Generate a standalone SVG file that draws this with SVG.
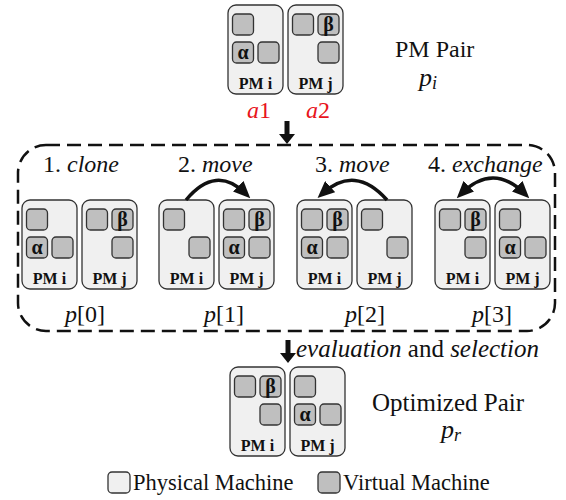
<svg xmlns="http://www.w3.org/2000/svg" width="566" height="500" viewBox="0 0 566 500">
<style>
.pm{fill:#f0f0f0;stroke:#333;stroke-width:1.3}
.vm{fill:#bfbfbf;stroke:#333;stroke-width:1.3}
.lbl{font-family:"Liberation Serif","Times New Roman",Tinos,serif;font-weight:bold;font-size:16px;text-anchor:middle;fill:#111}
.gr{font-family:"Liberation Serif","Times New Roman",Tinos,serif;font-weight:bold;font-size:20px;text-anchor:middle;fill:#111}
.t{font-family:"Liberation Serif","Times New Roman",Tinos,serif;font-size:24px;fill:#111}
.it{font-style:italic}
.red{fill:#e8141c}
.arc{fill:none;stroke:#111;stroke-width:3.5}
</style>
<defs>
<marker id="ah" markerUnits="userSpaceOnUse" markerWidth="17" markerHeight="15" refX="11" refY="7.5" orient="auto-start-reverse" viewBox="0 0 17 15">
<path d="M0,0 L17,7.5 L0,15 z" fill="#111"/>
</marker>
</defs>

<!-- top pair -->
<g id="top-pm-i" transform="translate(228,5)">
<rect class="pm" x="0" y="0" width="55" height="89" rx="8"/>
<rect class="vm" x="4.5" y="9" width="21" height="21" rx="4"/>
<rect class="vm" x="4.5" y="37" width="21" height="21" rx="4"/>
<rect class="vm" x="30" y="37" width="21" height="21" rx="4"/>
<text class="gr" x="15" y="54">α</text>
<text class="lbl" x="27.5" y="84">PM i</text>
</g>
<g id="top-pm-j" transform="translate(288,5)">
<rect class="pm" x="0" y="0" width="55" height="89" rx="8"/>
<rect class="vm" x="4.5" y="9" width="21" height="21" rx="4"/>
<rect class="vm" x="30" y="9" width="21" height="21" rx="4"/>
<rect class="vm" x="30" y="37" width="21" height="21" rx="4"/>
<text class="gr" x="40.5" y="26">β</text>
<text class="lbl" x="27.5" y="84">PM j</text>
</g>
<g id="top-labels">
<text class="t it red" x="247" y="118">a<tspan font-style="normal">1</tspan></text>
<text class="t it red" x="306" y="118">a<tspan font-style="normal">2</tspan></text>
<text class="t" x="395" y="57">PM Pair</text>
<text class="t it" x="419" y="86" style="font-size:26px">p<tspan style="font-size:18px" dy="3">i</tspan></text>
</g>

<!-- step 1 -->
<g id="s1-pm-i" transform="translate(22,200)">
<rect class="pm" x="0" y="0" width="55" height="89" rx="8"/>
<rect class="vm" x="4.5" y="9" width="21" height="21" rx="4"/>
<rect class="vm" x="4.5" y="37" width="21" height="21" rx="4"/>
<rect class="vm" x="30" y="37" width="21" height="21" rx="4"/>
<text class="gr" x="15" y="54">α</text>
<text class="lbl" x="27.5" y="84">PM i</text>
</g>
<g id="s1-pm-j" transform="translate(82,200)">
<rect class="pm" x="0" y="0" width="55" height="89" rx="8"/>
<rect class="vm" x="4.5" y="9" width="21" height="21" rx="4"/>
<rect class="vm" x="30" y="9" width="21" height="21" rx="4"/>
<rect class="vm" x="30" y="37" width="21" height="21" rx="4"/>
<text class="gr" x="40.5" y="26">β</text>
<text class="lbl" x="27.5" y="84">PM j</text>
</g>

<!-- step 2 -->
<g id="s2-pm-i" transform="translate(159,200)">
<rect class="pm" x="0" y="0" width="55" height="89" rx="8"/>
<rect class="vm" x="4.5" y="9" width="21" height="21" rx="4"/>
<rect class="vm" x="30" y="37" width="21" height="21" rx="4"/>
<text class="lbl" x="27.5" y="84">PM i</text>
</g>
<g id="s2-pm-j" transform="translate(219,200)">
<rect class="pm" x="0" y="0" width="55" height="89" rx="8"/>
<rect class="vm" x="4.5" y="9" width="21" height="21" rx="4"/>
<rect class="vm" x="30" y="9" width="21" height="21" rx="4"/>
<rect class="vm" x="4.5" y="37" width="21" height="21" rx="4"/>
<rect class="vm" x="30" y="37" width="21" height="21" rx="4"/>
<text class="gr" x="40.5" y="26">β</text>
<text class="gr" x="15" y="54">α</text>
<text class="lbl" x="27.5" y="84">PM j</text>
</g>

<!-- step 3 -->
<g id="s3-pm-i" transform="translate(297,200)">
<rect class="pm" x="0" y="0" width="55" height="89" rx="8"/>
<rect class="vm" x="4.5" y="9" width="21" height="21" rx="4"/>
<rect class="vm" x="30" y="9" width="21" height="21" rx="4"/>
<rect class="vm" x="4.5" y="37" width="21" height="21" rx="4"/>
<rect class="vm" x="30" y="37" width="21" height="21" rx="4"/>
<text class="gr" x="40.5" y="26">β</text>
<text class="gr" x="15" y="54">α</text>
<text class="lbl" x="27.5" y="84">PM i</text>
</g>
<g id="s3-pm-j" transform="translate(357,200)">
<rect class="pm" x="0" y="0" width="55" height="89" rx="8"/>
<rect class="vm" x="4.5" y="9" width="21" height="21" rx="4"/>
<rect class="vm" x="30" y="37" width="21" height="21" rx="4"/>
<text class="lbl" x="27.5" y="84">PM j</text>
</g>

<!-- step 4 -->
<g id="s4-pm-i" transform="translate(435,200)">
<rect class="pm" x="0" y="0" width="55" height="89" rx="8"/>
<rect class="vm" x="4.5" y="9" width="21" height="21" rx="4"/>
<rect class="vm" x="30" y="9" width="21" height="21" rx="4"/>
<rect class="vm" x="30" y="37" width="21" height="21" rx="4"/>
<text class="gr" x="40.5" y="26">β</text>
<text class="lbl" x="27.5" y="84">PM i</text>
</g>
<g id="s4-pm-j" transform="translate(495,200)">
<rect class="pm" x="0" y="0" width="55" height="89" rx="8"/>
<rect class="vm" x="4.5" y="9" width="21" height="21" rx="4"/>
<rect class="vm" x="4.5" y="37" width="21" height="21" rx="4"/>
<rect class="vm" x="30" y="37" width="21" height="21" rx="4"/>
<text class="gr" x="15" y="54">α</text>
<text class="lbl" x="27.5" y="84">PM j</text>
</g>

<g id="step-labels">
<text class="t" x="43" y="172">1. <tspan class="it">clone</tspan></text>
<text class="t" x="178" y="172">2. <tspan class="it">move</tspan></text>
<text class="t" x="315" y="172">3. <tspan class="it">move</tspan></text>
<text class="t" x="428" y="172">4. <tspan class="it">exchange</tspan></text>
<text class="t" x="65" y="322"><tspan class="it">p</tspan>[0]</text>
<text class="t" x="204" y="322"><tspan class="it">p</tspan>[1]</text>
<text class="t" x="345" y="322"><tspan class="it">p</tspan>[2]</text>
<text class="t" x="472" y="322"><tspan class="it">p</tspan>[3]</text>
</g>

<!-- bottom pair -->
<g id="bot-pm-i" transform="translate(230,367)">
<rect class="pm" x="0" y="0" width="55" height="89" rx="8"/>
<rect class="vm" x="4.5" y="9" width="21" height="21" rx="4"/>
<rect class="vm" x="30" y="9" width="21" height="21" rx="4"/>
<rect class="vm" x="30" y="37" width="21" height="21" rx="4"/>
<text class="gr" x="40.5" y="26">β</text>
<text class="lbl" x="27.5" y="84">PM i</text>
</g>
<g id="bot-pm-j" transform="translate(290,367)">
<rect class="pm" x="0" y="0" width="55" height="89" rx="8"/>
<rect class="vm" x="4.5" y="9" width="21" height="21" rx="4"/>
<rect class="vm" x="4.5" y="37" width="21" height="21" rx="4"/>
<rect class="vm" x="30" y="37" width="21" height="21" rx="4"/>
<text class="gr" x="15" y="54">α</text>
<text class="lbl" x="27.5" y="84">PM j</text>
</g>
<g id="bot-labels">
<text class="t" x="296" y="357" style="font-size:25px"><tspan class="it">evaluation</tspan> and <tspan class="it">selection</tspan></text>
<text class="t" x="372" y="411" style="font-size:25px">Optimized Pair</text>
<text class="t it" x="441" y="438" style="font-size:26px">p<tspan style="font-size:18px" dy="3">r</tspan></text>
</g>

<!-- legend -->
<g id="legend">
<rect class="pm" x="108" y="472" width="22" height="21" rx="4"/>
<text class="t" x="133" y="490" style="font-size:22.5px">Physical Machine</text>
<rect class="vm" x="318" y="472" width="22" height="21" rx="4"/>
<text class="t" x="343" y="490" style="font-size:22.5px">Virtual Machine</text>
</g>

<!-- container -->
<g id="process-box">
<rect x="18" y="145" width="537" height="186" rx="28" fill="none" stroke="#111" stroke-width="2.5" stroke-dasharray="14 7"/>
</g>

<g id="connectors">
<path d="M284.5,121 H289.5 V134 H295 L287,144 L279,134 H284.5 Z" fill="#111"/>
<path d="M285.5,340 H290.5 V353 H296 L288,363 L280,353 H285.5 Z" fill="#111"/>
<path class="arc" d="M186,200 Q216,164 246,194" marker-end="url(#ah)"/>
<path class="arc" d="M387,200 Q355,164 322,194" marker-end="url(#ah)"/>
<path class="arc" d="M461,194 Q493,162 525,194" marker-start="url(#ah)" marker-end="url(#ah)"/>
</g>
</svg>
